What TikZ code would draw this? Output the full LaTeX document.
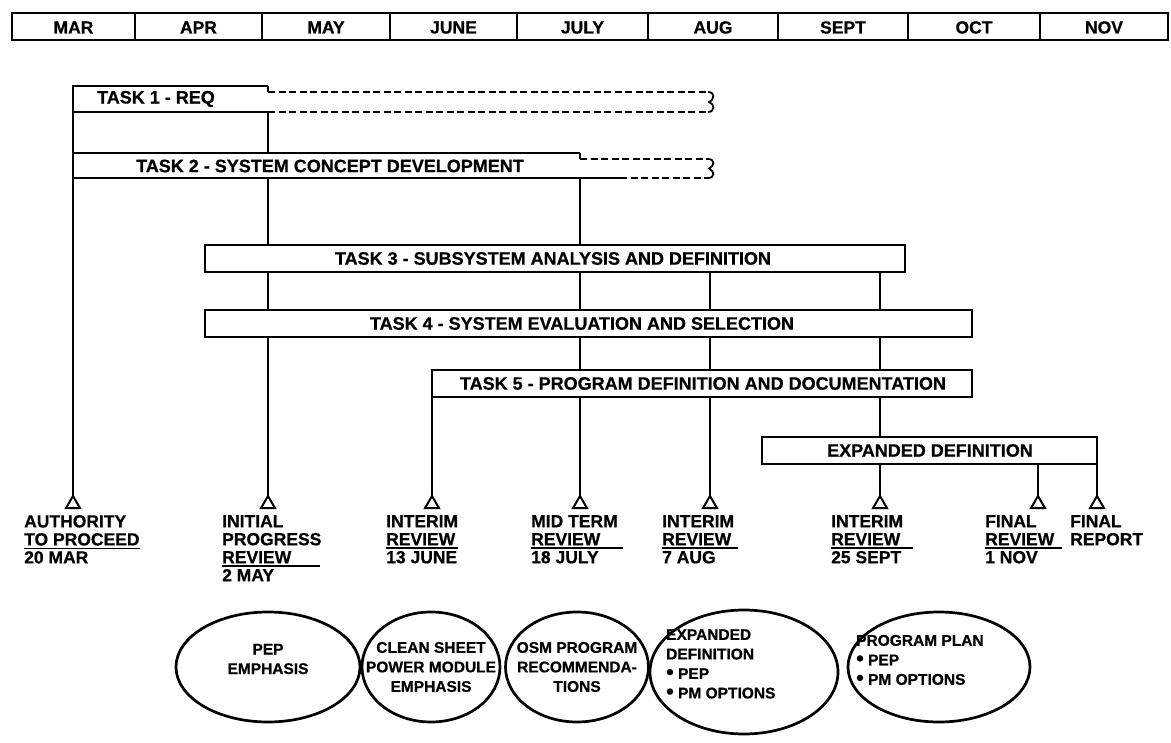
\documentclass[tikz,border=0pt]{standalone}
\usepackage{fontspec}
\setmainfont{Liberation Sans}[BoldFeatures={FakeBold=0.6}]
\usetikzlibrary{shapes.geometric,backgrounds}
\newcommand\ulw[2]{\makebox[0pt][l]{\rule[-4pt]{#1pt}{1.9pt}}#2}
\newcommand\bul{\raisebox{-0.3pt}{\scalebox{1.4}{\textbullet}}}
\begin{document}
\begin{tikzpicture}[x=1pt,y=-1pt,
  box/.style={draw, line width=2.2pt, fill=white, inner sep=0pt, outer sep=0pt, minimum height=27pt, anchor=north west},
  txt/.style={inner sep=0pt, font=\bfseries\fontsize{18}{20}\selectfont},
  dsh/.style={line width=2.2pt, dash pattern=on 7pt off 3.5pt},
  sol/.style={line width=2.2pt},
  ml/.style={line width=1.8pt},
  tri/.style={regular polygon, regular polygon sides=3, draw, fill=white, line width=2pt, minimum size=16pt, inner sep=0pt, outer sep=0pt, anchor=corner 1},
  lab/.style={anchor=north west, align=left, inner sep=0pt, font=\bfseries\fontsize{17.5}{18}\selectfont},
  ell/.style={ellipse, draw, line width=2.7pt, inner sep=0pt},
  etxt/.style={inner sep=0pt, font=\bfseries\fontsize{15.5}{19.5}\selectfont},
  month/.style={inner sep=0pt, anchor=base, font=\bfseries\fontsize{17.5}{18}\selectfont}
]
\useasboundingbox (0,0) rectangle (1171,743);

% header
\node[draw, line width=2.4pt, anchor=north west, minimum width=1156pt, minimum height=27pt, inner sep=0pt, outer sep=0pt] (hdr) at (12,13) {};
\foreach \x in {135,262,390,517,648,778,908,1040} \draw[line width=1.8pt] (\x,13) -- (\x,40);
\node[month] (mMAR) at (73.5,33.5) {MAR};
\node[month] (mAPR) at (198.5,33.5) {APR};
\node[month] (mMAY) at (326,33.5) {MAY};
\node[month] (mJUN) at (453.5,33.5) {JUNE};
\node[month] (mJUL) at (582.5,33.5) {JULY};
\node[month] (mAUG) at (713,33.5) {AUG};
\node[month] (mSEP) at (843,33.5) {SEPT};
\node[month] (mOCT) at (974,33.5) {OCT};
\node[month] (mNOV) at (1104,33.5) {NOV};

% task 1
\node[box, draw=none, minimum width=195pt, minimum height=26pt] (t1) at (73,86) {};
\node[txt] (t1l) at (156,99) {TASK 1 - REQ};
\draw[sol] (t1.north east) -- (t1.north west) -- (t1.south west) -- (t1.south east);
\draw[sol] (t1.north east) -- ++(0,6) coordinate (t1s);
\coordinate (t1e) at (708,92);
\coordinate (t1f) at (708,112);
\draw[dsh] (t1s) -- (t1e);
\draw[dsh] (t1.south east) -- (t1f);
\draw[line width=1.8pt] (t1e) .. controls (715,92) and (715,99) .. (709,102) .. controls (715,104) and (715,112) .. (t1f);

% task 2
\node[box, draw=none, minimum width=507pt, minimum height=25pt] (t2) at (73,153) {};
\node[txt] (t2l) at (330,166) {TASK 2 - SYSTEM CONCEPT DEVELOPMENT};
\draw[sol] (t2.north east) -- (t2.north west) -- (t2.south west) -- ++(547,0) coordinate (t2b);
\draw[sol] (t2.north east) -- ++(0,6) coordinate (t2s);
\coordinate (t2e) at (708,159);
\coordinate (t2f) at (708,178);
\draw[dsh] (t2s) -- (t2e);
\draw[dsh] (t2b) -- (t2f);
\draw[line width=1.8pt] (t2e) .. controls (715,159) and (715,166) .. (709,168.5) .. controls (715,171) and (715,178) .. (t2f);

% tasks 3-5, expanded
\node[box, minimum width=700pt] (t3) at (205,245) {};
\node[txt] (t3l) at (553,258.5) {TASK 3 - SUBSYSTEM ANALYSIS AND DEFINITION};
\node[box, minimum width=767pt] (t4) at (205,310) {};
\node[txt] (t4l) at (582,323.5) {TASK 4 - SYSTEM EVALUATION AND SELECTION};
\node[box, minimum width=540pt] (t5) at (432,370) {};
\node[txt] (t5l) at (703,383.5) {TASK 5 - PROGRAM DEFINITION AND DOCUMENTATION};
\node[box, minimum width=335pt] (ex) at (762,437) {};
\node[txt] (exl) at (930,450.5) {EXPANDED DEFINITION};

% milestone triangles
\node[tri] (a1) at (73,496) {};
\node[tri] (a2) at (268,496) {};
\node[tri] (a3) at (432,496) {};
\node[tri] (a4) at (580,496) {};
\node[tri] (a5) at (710,496) {};
\node[tri] (a6) at (880,496) {};
\node[tri] (a7) at (1038,496) {};
\node[tri] (a8) at (1097,496) {};

\begin{pgfonlayer}{background}
\draw[ml] (t1.south west) -- (a1.corner 1);
\draw[ml] (t1.south east) -- (a2.corner 1);
\draw[ml] (t5.south west) -- (a3.corner 1);
\draw[ml] (t2.south east) -- (a4.corner 1);
\draw[ml] (t3.south west -| a5.corner 1) -- (a5.corner 1);
\draw[ml] (t3.south west -| a6.corner 1) -- (a6.corner 1);
\draw[ml] (ex.south west -| a7.corner 1) -- (a7.corner 1);
\draw[ml] (ex.south east) -- (a8.corner 1);
\end{pgfonlayer}

% milestone labels
\node[lab] (l1) at (24,515) {AUTHORITY\\\ulw{116}{TO PROCEED}\\20 MAR};
\node[lab] (l2) at (222,515) {INITIAL\\PROGRESS\\\ulw{98}{REVIEW}\\2 MAY};
\node[lab] (l3) at (386,515) {INTERIM\\\ulw{72}{REVIEW}\\13 JUNE};
\node[lab] (l4) at (531,515) {MID TERM\\\ulw{92}{REVIEW}\\18 JULY};
\node[lab] (l5) at (662,515) {INTERIM\\\ulw{76}{REVIEW}\\7 AUG};
\node[lab] (l6) at (831,515) {INTERIM\\\ulw{82}{REVIEW}\\25 SEPT};
\node[lab] (l7) at (985,515) {FINAL\\\ulw{77}{REVIEW}\\1 NOV};
\node[lab] (l8) at (1070,515) {FINAL\\REPORT};

% ellipses
\node[ell, minimum width=184pt, minimum height=110pt] (e1) at (268,667) {};
\node[etxt, align=center] (e1t) at (268,659) {PEP\\EMPHASIS};
\node[ell, minimum width=138pt, minimum height=110pt] (e2) at (431,667) {};
\node[etxt, align=center] (e2t) at (e2.center) {CLEAN SHEET\\POWER MODULE\\EMPHASIS};
\node[ell, minimum width=143pt, minimum height=110pt] (e3) at (577,667) {};
\node[etxt, align=center] (e3t) at (e3.center) {OSM PROGRAM\\RECOMMENDA-\\TIONS};
\node[ell, minimum width=188pt, minimum height=124pt] (e4) at (744,672) {};
\node[etxt, align=left, anchor=west] (e4t) at (666,664) {EXPANDED\\DEFINITION\\\bul\ PEP\\\bul\ PM OPTIONS};
\node[ell, minimum width=182pt, minimum height=110pt] (e5) at (939,667) {};
\node[etxt, align=left, anchor=west] (e5t) at (856,660) {PROGRAM PLAN\\\bul\ PEP\\\bul\ PM OPTIONS};
\end{tikzpicture}
\end{document}
